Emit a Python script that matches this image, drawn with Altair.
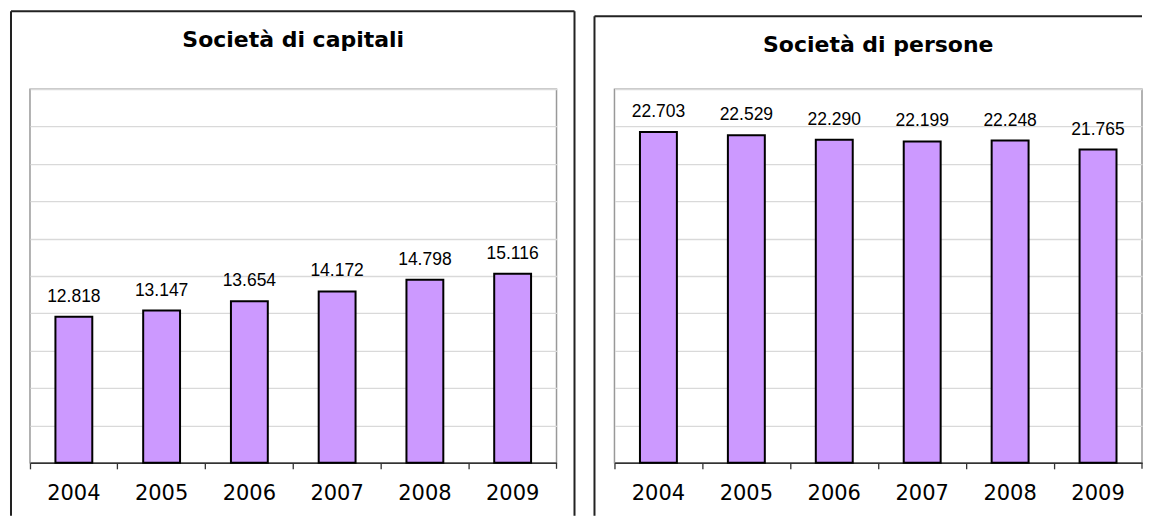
import altair as alt
import pandas as pd

# ---- data ----
years = ["2004", "2005", "2006", "2007", "2008", "2009"]
capitali = [12818, 13147, 13654, 14172, 14798, 15116]
persone = [22703, 22529, 22290, 22199, 22248, 21765]
titles = ["Società di capitali", "Società di persone"]
y_min, y_max = 5000, 25000
y_ticks = list(range(5000, 25001, 2000))

BAR_FILL = "#CC99FF"
H = 374


def panel(values, title, W, frame_left, frame_top, frame_right, frame_bottom, title_y):
    df = pd.DataFrame({"anno": years, "valore": values})
    base = alt.Chart(df)
    x = alt.X(
        "anno:N",
        sort=years,
        scale=alt.Scale(paddingInner=0, paddingOuter=0),
        axis=alt.Axis(
            title=None, bandPosition=0, labelAngle=0,
            labelAlign="center", labelFont="DejaVu Sans", labelFontSize=21,
            labelColor="black", labelPadding=14, ticks=True, tickSize=6,
            tickColor="#333333", tickWidth=1.3, domainColor="#333333",
            domainWidth=1.5, grid=False, labelOverlap=False,
        ),
    )
    y = alt.Y(
        "valore:Q",
        scale=alt.Scale(domain=[y_min, y_max], nice=False, zero=False),
        axis=alt.Axis(
            title=None, values=y_ticks, labels=False, ticks=False, domain=False,
            grid=True, gridColor="#d9d9d9", gridWidth=1.3,
        ),
    )
    bars = base.mark_bar(
        fill=BAR_FILL, stroke="black", strokeWidth=2,
        width=alt.RelativeBandSize(0.42),
    ).encode(x=x, y=y, y2=alt.datum(y_min))
    labels = base.transform_calculate(
        lab="replace(format(datum.valore, ','), ',', '.')"
    ).mark_text(
        font="Liberation Sans", fontSize=17.5, baseline="alphabetic",
        dy=-15, color="black",
    ).encode(x=x, y=y, text="lab:N")

    one = alt.Chart(pd.DataFrame({"k": [0]}))
    frame_style = dict(color="#222222", strokeWidth=2)
    layers = [bars, labels]
    # chart title as a text mark inside the outer box
    layers.append(one.mark_text(
        font="DejaVu Sans", fontSize=22, fontWeight="bold", color="black",
        align="center", baseline="alphabetic",
    ).encode(x=alt.value(W / 2), y=alt.value(title_y), text=alt.value(title)))
    # closing tick at right end of the category axis
    layers.append(one.mark_rule(color="#333333", strokeWidth=1.3).encode(
        x=alt.value(W), y=alt.value(H), y2=alt.value(H + 6)))
    # outer chart box
    layers.append(one.mark_rule(**frame_style).encode(
        x=alt.value(frame_left), y=alt.value(frame_top), y2=alt.value(frame_bottom)))
    layers.append(one.mark_rule(**frame_style).encode(
        x=alt.value(frame_left), x2=alt.value(frame_right), y=alt.value(frame_top)))
    if W + 5 < frame_right <= W + 30:
        layers.append(one.mark_rule(**frame_style).encode(
            x=alt.value(frame_right), y=alt.value(frame_top), y2=alt.value(frame_bottom)))

    return alt.layer(*layers).properties(width=W, height=H)


left = panel(capitali, titles[0], 527, -19, -78, 545, 427, -42)
right = panel(persone, titles[1], 528, -20, -73, 528, 427, -37)

chart = alt.hconcat(left, right, spacing=16).properties(
    padding={"left": 1, "top": 1, "right": 0, "bottom": 0}
).configure_view(
    stroke="#999999", strokeWidth=1.5
).configure_axis(minExtent=0)

chart.save("out.html", embed_options={"renderer": "svg", "actions": False})
